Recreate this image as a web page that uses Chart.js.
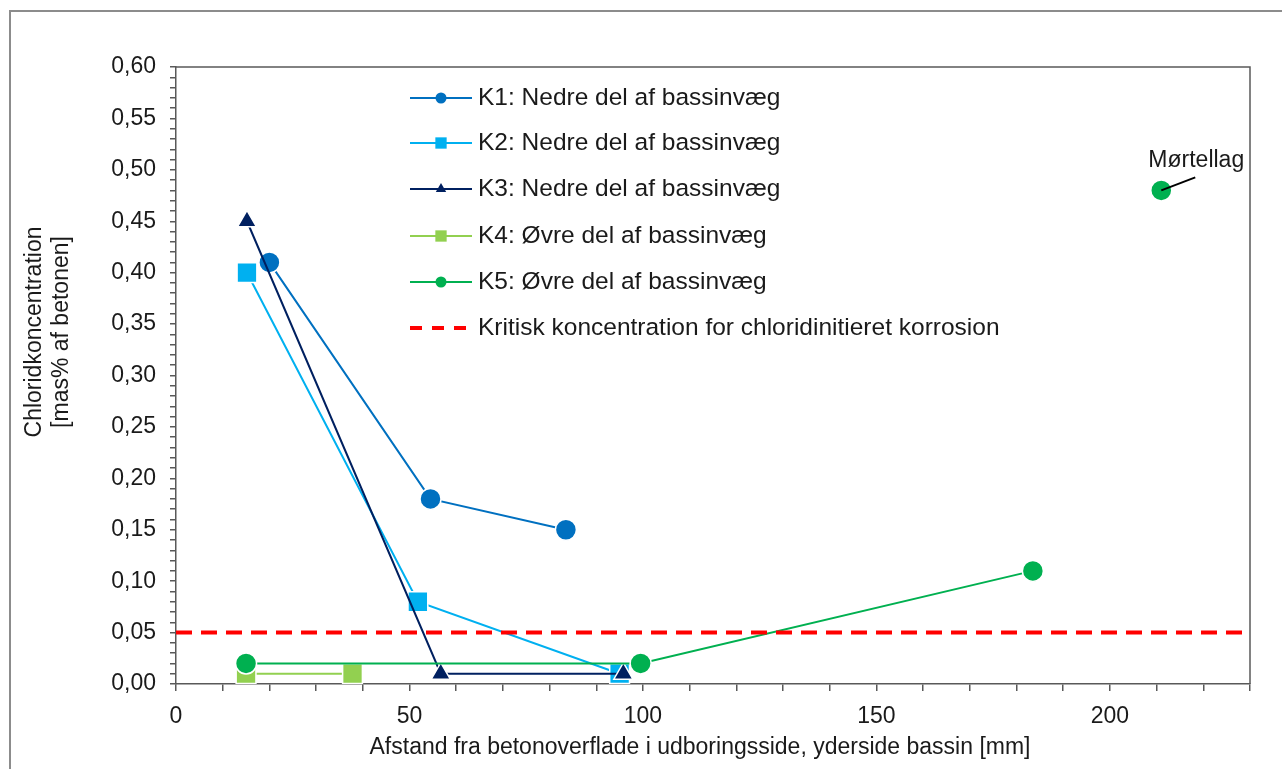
<!DOCTYPE html>
<html>
<head>
<meta charset="utf-8">
<script src="https://cdn.jsdelivr.net/npm/chart.js@4.4.0/dist/chart.umd.min.js"></script>
<style>
  html, body { margin: 0; padding: 0; background: #fff; }
  #wrap { width: 1282px; height: 769px; position: relative; }
</style>
</head>
<body>
<div id="wrap"><canvas id="chlorideChart" width="1282" height="769"></canvas></div>
<script>
/* ---------- DATA ---------- */

const k1X = [20, 54.5, 83.5];
const k1Y = [0.41, 0.18, 0.15];
const k2X = [15.2, 51.8, 95];
const k2Y = [0.40, 0.08, 0.01];
const k3X = [15.2, 56.7, 95.8];
const k3Y = [0.45, 0.01, 0.01];
const k4X = [15, 37.8];
const k4Y = [0.01, 0.01];
const k5X = [15, 99.5, 183.5];
const k5Y = [0.02, 0.02, 0.11];
const mortelX = [211];
const mortelY = [0.48];
const limitX = [0, 230];
const limitY = [0.05, 0.05];

const seriesNames = [
  "K1: Nedre del af bassinvæg",
  "K2: Nedre del af bassinvæg",
  "K3: Nedre del af bassinvæg",
  "K4: Øvre del af bassinvæg",
  "K5: Øvre del af bassinvæg",
  "Kritisk koncentration for chloridinitieret korrosion"
];
const mortelLabel = "Mørtellag";
const xTitle = "Afstand fra betonoverflade i udboringsside, yderside bassin [mm]";
const yTitle = ["Chloridkoncentration", "[mas% af betonen]"];

const FONT = "'Liberation Sans', Arial, sans-serif";
const TEXT = "#1a1a1a";

/* ---------- HELPERS ---------- */

function zip(xs, ys) {
  return xs.map((x, i) => ({ x, y: ys[i] }));
}

function series(label, xs, ys, color, style, radius, order) {
  return {
    label,
    data: zip(xs, ys),
    showLine: true,
    borderColor: color,
    backgroundColor: color,
    borderWidth: 2,
    pointStyle: style,
    pointRadius: radius,
    pointBackgroundColor: color,
    pointBorderColor: "#ffffff",
    pointBorderWidth: 1.5,
    order
  };
}

const datasets = [
  series(seriesNames[0], k1X, k1Y, "#0070C0", "circle", 10.5, 6),
  series(seriesNames[1], k2X, k2Y, "#00B0F0", "rect", 14, 5),
  series(seriesNames[2], k3X, k3Y, "#002060", "triangle", 11, 4),
  series(seriesNames[3], k4X, k4Y, "#92D050", "rect", 14, 3),
  series(seriesNames[4], k5X, k5Y, "#00B050", "circle", 10.5, 2),
  {
    label: seriesNames[5],
    data: zip(limitX, limitY),
    showLine: true,
    borderColor: "#FF0000",
    borderWidth: 4,
    borderDash: [16, 9],
    pointRadius: 0,
    order: 0
  },
  {
    label: mortelLabel,
    data: zip(mortelX, mortelY),
    showLine: false,
    backgroundColor: "#00B050",
    pointStyle: "circle",
    pointRadius: 10.5,
    pointBackgroundColor: "#00B050",
    pointBorderColor: "#ffffff",
    pointBorderWidth: 1.5,
    order: 1,
    noLegend: true
  }
];

/* legend marker sizes (smaller than plot markers) */
const legendRadius = { circle: 5.5, rect: 8, triangle: 6 };

/* ---------- PLUGINS ---------- */

const framePlugin = {
  id: "frame",
  beforeDraw(chart) {
    const ctx = chart.ctx;
    ctx.save();
    ctx.fillStyle = "#fff";
    ctx.fillRect(0, 0, chart.width, chart.height);
    ctx.strokeStyle = "#8c8c8c";
    ctx.lineWidth = 2;
    ctx.strokeRect(10, 11, chart.width + 20, chart.height + 20);
    ctx.restore();
  },
  afterDatasetsDraw(chart) {
    const { ctx, chartArea: a } = chart;
    ctx.save();
    ctx.strokeStyle = "#595959";
    ctx.lineWidth = 1.5;
    ctx.beginPath();
    ctx.moveTo(a.left, a.top);
    ctx.lineTo(a.right, a.top);
    ctx.lineTo(a.right, a.bottom);
    ctx.stroke();

    ctx.fillStyle = TEXT;
    ctx.font = "23px " + FONT;
    ctx.textAlign = "center";
    ctx.textBaseline = "middle";

    // x title
    ctx.fillText(xTitle, 700, 748);

    // y title, two lines rotated
    ctx.translate(48, 332);
    ctx.rotate(-Math.PI / 2);
    ctx.fillText(yTitle[0], 0, -13);
    ctx.fillText(yTitle[1], 0, 14);
    ctx.restore();
  }
};

const legendPlugin = {
  id: "insideLegend",
  afterDraw(chart) {
    const ctx = chart.ctx;
    const x0 = 410, x1 = 472, xm = 441, tx = 478;
    const rowY = [98, 143, 189, 236, 282, 328];
    ctx.save();
    ctx.font = "24.5px " + FONT;
    ctx.textBaseline = "middle";
    ctx.textAlign = "left";
    let row = 0;
    chart.data.datasets.forEach((ds) => {
      if (ds.noLegend) return;
      const y = rowY[row++];
      ctx.save();
      ctx.strokeStyle = ds.borderColor;
      ctx.lineWidth = ds.borderDash ? 4 : 2;
      ctx.setLineDash(ds.borderDash ? [12, 10] : []);
      ctx.beginPath();
      ctx.moveTo(x0, y);
      ctx.lineTo(x1, y);
      ctx.stroke();
      ctx.restore();
      if (ds.pointRadius > 0) {
        ctx.fillStyle = ds.pointBackgroundColor;
        ctx.strokeStyle = ds.pointBackgroundColor;
        Chart.helpers.drawPoint(ctx, {
          pointStyle: ds.pointStyle,
          radius: legendRadius[ds.pointStyle],
          borderWidth: 0,
          rotation: 0
        }, xm, y);
      }
      ctx.fillStyle = TEXT;
      ctx.fillText(ds.label, tx, y);
    });
    ctx.restore();
  }
};

const calloutPlugin = {
  id: "mortelCallout",
  afterDraw(chart) {
    const idx = chart.data.datasets.findIndex((d) => d.label === mortelLabel);
    const pt = chart.getDatasetMeta(idx).data[0];
    const ctx = chart.ctx;
    ctx.save();
    ctx.strokeStyle = "#000";
    ctx.lineWidth = 2;
    ctx.beginPath();
    ctx.moveTo(pt.x, pt.y);
    ctx.lineTo(pt.x + 34, pt.y - 13);
    ctx.stroke();
    ctx.fillStyle = TEXT;
    ctx.font = "23px " + FONT;
    ctx.textAlign = "center";
    ctx.textBaseline = "middle";
    ctx.fillText(mortelLabel, pt.x + 35, pt.y - 30);
    ctx.restore();
  }
};

/* ---------- CHART ---------- */

const ctx = document.getElementById("chlorideChart").getContext("2d");

new Chart(ctx, {
  type: "scatter",
  data: { datasets },
  options: {
    responsive: false,
    animation: false,
    devicePixelRatio: 1,
    layout: { padding: { left: 0, top: 67, right: 32, bottom: 0 } },
    plugins: {
      legend: { display: false },
      tooltip: { enabled: false }
    },
    scales: {
      x: {
        type: "linear",
        min: 0,
        max: 230,
        afterFit(scale) { scale.height = 85; },
        border: { color: "#595959", width: 1.5 },
        grid: { display: true, drawOnChartArea: false, tickLength: 7, color: "#595959", lineWidth: 1.5 },
        ticks: {
          stepSize: 10,
          padding: 12,
          color: TEXT,
          font: { family: FONT, size: 23 },
          autoSkip: false,
          maxRotation: 0,
          callback: (v) => (Math.round(v) % 50 === 0 ? String(v) : "")
        }
      },
      y: {
        type: "linear",
        min: 0,
        max: 0.6,
        afterFit(scale) { scale.width = 176; },
        border: { color: "#595959", width: 1.5 },
        grid: { display: true, drawOnChartArea: false, tickLength: 6, color: "#595959", lineWidth: 1.5 },
        ticks: {
          stepSize: 0.01,
          padding: 14,
          color: TEXT,
          font: { family: FONT, size: 23 },
          autoSkip: false,
          callback: (v) => (Math.round(v * 100) % 5 === 0 ? v.toFixed(2).replace(".", ",") : "")
        }
      }
    }
  },
  plugins: [framePlugin, legendPlugin, calloutPlugin]
});
</script>
</body>
</html>
